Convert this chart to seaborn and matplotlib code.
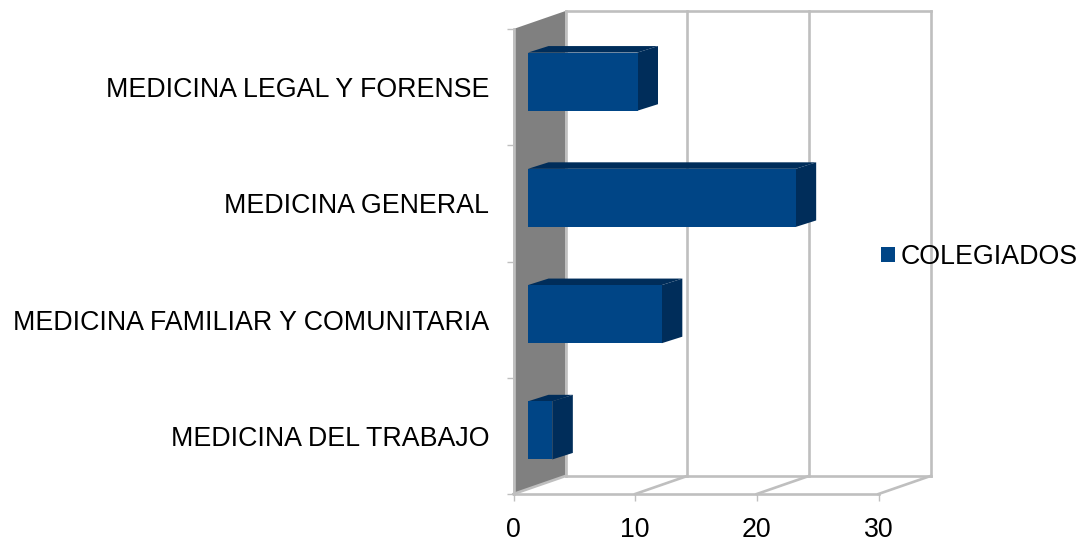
"""Barras horizontales con aspecto 3D: colegiados por especialidad."""

import matplotlib.pyplot as plt
import pandas as pd
import seaborn as sns
from matplotlib.patches import Patch, Polygon
from matplotlib.transforms import Affine2D

categorias = [
    "MEDICINA LEGAL Y FORENSE",
    "MEDICINA GENERAL",
    "MEDICINA FAMILIAR Y COMUNITARIA",
    "MEDICINA DEL TRABAJO",
]
colegiados = [9, 22, 11, 2]
x_ticks = [0, 10, 20, 30]
serie = "COLEGIADOS"

AZUL = "#004586"
AZUL_OSCURO = "#002d5a"
GRIS_LINEA = "#bfbfbf"
GRIS_PARED = "#808080"
FONT_PX = 26.7

W, H, DPI = 1079, 542, 100
# caja frontal del grafico, en pixeles de la imagen
LEFT, RIGHT, TOP, BOTTOM = 513.5, 878.5, 29, 494
# profundidad de la caja y de las barras, en pixeles
DEPTH_X, DEPTH_Y = 52, 18
BAR_X, BAR_Y = 14.5, 5.5
TOP_X, TOP_Y = 20.5, 6.5

sns.set_theme(style="white")
plt.rcParams["font.family"] = ["Liberation Sans", "DejaVu Sans"]

df = pd.DataFrame({"categoria": categorias, "valor": colegiados})

fig = plt.figure(figsize=(W / DPI, H / DPI), dpi=DPI)
ax = fig.add_axes([LEFT / W, 1 - BOTTOM / H, (RIGHT - LEFT) / W, (BOTTOM - TOP) / H])

sns.barplot(
    data=df,
    x="valor",
    y="categoria",
    order=categorias,
    orient="h",
    color=AZUL,
    saturation=1,
    width=0.5,
    linewidth=0,
    ax=ax,
)
ax.set_xlim(x_ticks[0], x_ticks[-1])
ax.set_ylim(len(categorias) - 0.5, -0.5)
ax.set_xlabel("")
ax.set_ylabel("")

barras = list(ax.patches)

px_x = (RIGHT - LEFT) / (x_ticks[-1] - x_ticks[0])
px_y = (BOTTOM - TOP) / len(categorias)
y0, y1 = len(categorias) - 0.5, -0.5
dx, dy = DEPTH_X / px_x, DEPTH_Y / px_y

# pared izquierda
ax.add_patch(
    Polygon(
        [(0, y0), (dx, y0 - dy), (dx, y1 - dy), (0, y1)],
        closed=True,
        facecolor=GRIS_PARED,
        edgecolor="none",
        clip_on=False,
        zorder=0.5,
    )
)

linea = dict(color=GRIS_LINEA, lw=1.9, clip_on=False, zorder=0.6, solid_capstyle="projecting")
# rejilla del fondo y del suelo
for t in x_ticks:
    ax.plot([t + dx, t + dx], [y0 - dy, y1 - dy], **linea)
    ax.plot([t, t + dx], [y0, y0 - dy], **linea)
ax.plot([dx, x_ticks[-1] + dx], [y1 - dy, y1 - dy], **linea)
ax.plot([dx, x_ticks[-1] + dx], [y0 - dy, y0 - dy], **linea)

# barras: la cara frontal se desplaza hacia el fondo y se anaden lateral y tapa
offset = ax.transData + Affine2D().translate(BAR_X, BAR_Y)
for bar in barras:
    b_x, b_y = bar.get_x(), bar.get_y()
    b_w, b_h = bar.get_width(), bar.get_height()
    t_x, t_y = TOP_X / px_x, TOP_Y / px_y
    lateral = [
        (b_x + b_w, b_y),
        (b_x + b_w + t_x, b_y - t_y),
        (b_x + b_w + t_x, b_y + b_h - t_y),
        (b_x + b_w, b_y + b_h),
    ]
    tapa = [
        (b_x, b_y),
        (b_x + t_x, b_y - t_y),
        (b_x + b_w + t_x, b_y - t_y),
        (b_x + b_w, b_y),
    ]
    for puntos in (lateral, tapa):
        cara = Polygon(
            puntos,
            closed=True,
            facecolor=AZUL_OSCURO,
            edgecolor="none",
            transform=offset,
            clip_on=False,
            zorder=3,
        )
        ax.add_patch(cara)
    bar.set_transform(offset)
    bar.set_clip_on(False)
    bar.set_zorder(3.1)

sns.despine(ax=ax, top=True, right=True)
for lado in ("left", "bottom"):
    ax.spines[lado].set_color(GRIS_LINEA)
    ax.spines[lado].set_linewidth(1.9)
    ax.spines[lado].set_zorder(0.7)

ax.set_xticks(x_ticks)
ax.tick_params(
    axis="x", which="major", bottom=True, length=5, width=1.0,
    color=GRIS_LINEA, labelsize=FONT_PX * 72 / DPI, labelcolor="black", pad=11.5,
)
ax.set_yticks(
    [i - 0.5 for i in range(len(categorias) + 1)], minor=True
)
ax.tick_params(axis="y", which="minor", left=True, length=5, width=1.0, color=GRIS_LINEA)
ax.tick_params(
    axis="y", which="major", left=False, labelsize=FONT_PX * 72 / DPI,
    labelcolor="black", pad=11.5,
)

fig.legend(
    handles=[Patch(facecolor=AZUL, edgecolor="none", label=serie)],
    loc="center left",
    bbox_to_anchor=(881 / W, 1 - 257 / H),
    frameon=False,
    fontsize=FONT_PX * 72 / DPI,
    labelcolor="black",
    handlelength=0.52,
    handleheight=0.52,
    handletextpad=0.2,
    borderpad=0,
    borderaxespad=0,
)

fig.savefig("out.png", dpi=DPI)
plt.close(fig)
